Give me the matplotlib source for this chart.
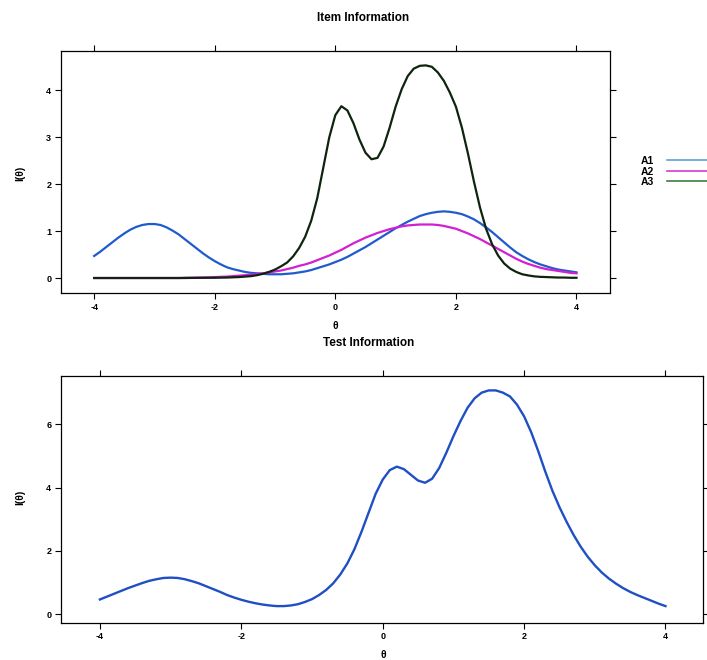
import matplotlib
matplotlib.use("Agg")
import matplotlib.pyplot as plt
from matplotlib.lines import Line2D
import numpy as np

plt.rcParams["font.family"] = ["Liberation Sans", "DejaVu Sans"]
plt.rcParams["font.weight"] = "bold"
plt.rcParams["axes.unicode_minus"] = False

# theta grid, step 0.1 from -4 to 4
theta = np.round(np.arange(-40, 41) / 10, 1)

a1 = [0.47, 0.56, 0.66, 0.76, 0.86, 0.95, 1.03, 1.09, 1.13, 1.15,
      1.15, 1.13, 1.08, 1.01, 0.93, 0.83, 0.73, 0.63, 0.53, 0.44,
      0.36, 0.29, 0.23, 0.19, 0.16, 0.13, 0.11, 0.10, 0.09, 0.08,
      0.08, 0.08, 0.09, 0.10, 0.12, 0.14, 0.17, 0.21, 0.25, 0.29,
      0.34, 0.39, 0.45, 0.52, 0.59, 0.66, 0.74, 0.82, 0.90, 0.98,
      1.06, 1.13, 1.20, 1.26, 1.32, 1.36, 1.39, 1.41, 1.42, 1.41,
      1.39, 1.36, 1.31, 1.25, 1.17, 1.08, 0.98, 0.87, 0.76, 0.65,
      0.55, 0.47, 0.40, 0.34, 0.29, 0.25, 0.21, 0.18, 0.16, 0.14,
      0.12]

a2 = [0.0, 0.0, 0.0, 0.0, 0.0, 0.0, 0.0, 0.0, 0.0, 0.0,
      0.0, 0.0, 0.0, 0.0, 0.0, 0.005, 0.007, 0.01, 0.012, 0.015,
      0.02, 0.025, 0.03, 0.04, 0.05, 0.06, 0.07, 0.085, 0.10, 0.12,
      0.14, 0.16, 0.19, 0.22, 0.26, 0.29, 0.33, 0.38, 0.43, 0.48,
      0.54, 0.60, 0.67, 0.74, 0.80, 0.86, 0.91, 0.96, 1.00, 1.04,
      1.07, 1.10, 1.12, 1.13, 1.14, 1.14, 1.14, 1.13, 1.11, 1.08,
      1.05, 1.00, 0.95, 0.89, 0.83, 0.76, 0.69, 0.62, 0.55, 0.48,
      0.41, 0.35, 0.30, 0.26, 0.22, 0.19, 0.17, 0.15, 0.13, 0.11,
      0.10]

a3 = [0.0, 0.0, 0.0, 0.0, 0.0, 0.0, 0.0, 0.0, 0.0, 0.0,
      0.0, 0.0, 0.0, 0.0, 0.0, 0.0, 0.002, 0.003, 0.004, 0.005,
      0.005, 0.008, 0.01, 0.015, 0.02, 0.03, 0.04, 0.06, 0.09, 0.13,
      0.18, 0.25, 0.33, 0.46, 0.64, 0.88, 1.22, 1.70, 2.35, 3.00,
      3.47, 3.66, 3.57, 3.30, 2.95, 2.67, 2.53, 2.56, 2.80, 3.20,
      3.65, 4.02, 4.30, 4.46, 4.52, 4.53, 4.50, 4.38, 4.20, 3.95,
      3.65, 3.20, 2.65, 2.05, 1.50, 1.05, 0.72, 0.48, 0.31, 0.20,
      0.13, 0.08, 0.055, 0.035, 0.025, 0.02, 0.015, 0.01, 0.01, 0.005,
      0.005]

test_info = [0.46, 0.55, 0.64, 0.73, 0.82, 0.90, 0.98, 1.05, 1.10, 1.14,
             1.15, 1.14, 1.10, 1.04, 0.97, 0.88, 0.79, 0.70, 0.60, 0.52,
             0.45, 0.39, 0.34, 0.30, 0.27, 0.25, 0.25, 0.27, 0.31, 0.38,
             0.47, 0.60, 0.76, 0.97, 1.25, 1.60, 2.05, 2.60, 3.20, 3.80,
             4.25, 4.55, 4.66, 4.58, 4.40, 4.22, 4.15, 4.28, 4.62, 5.10,
             5.62, 6.10, 6.52, 6.82, 7.00, 7.07, 7.07, 7.00, 6.88, 6.62,
             6.25, 5.75, 5.15, 4.50, 3.90, 3.38, 2.92, 2.50, 2.13, 1.81,
             1.54, 1.31, 1.12, 0.96, 0.82, 0.70, 0.60, 0.51, 0.42, 0.33,
             0.25]

items = ["A1", "A2", "A3"]
item_colors = ["#1f5bcc", "#d21fd2", "#0e240e"]
legend_colors = ["#5f9fd8", "#d23cd2", "#3d7d3d"]

fig = plt.figure(figsize=(7.07, 6.6), dpi=100)
ax1 = fig.add_axes([0.0863, 0.556, 0.776, 0.367])
ax2 = fig.add_axes([0.0863, 0.0565, 0.908, 0.374])


def lattice_style(ax, yticks):
    ax.set_xticks([-4, -2, 0, 2, 4])
    ax.set_yticks(yticks)
    ax.tick_params(direction="out", length=4, width=0.8, labelsize=6.5,
                   top=True, right=True, labeltop=False, labelright=False,
                   pad=3)
    for lab in ax.get_xticklabels() + ax.get_yticklabels():
        lab.set_fontweight("bold")
    for s in ax.spines.values():
        s.set_linewidth(0.9)


for vals, c in zip([a1, a2, a3], item_colors):
    ax1.plot(theta, vals, color=c, lw=1.6, solid_joinstyle="round")
ax1.set_xlim(-4.55, 4.55)
ax1.set_ylim(-0.32, 4.84)
lattice_style(ax1, [0, 1, 2, 3, 4])

ax2.plot(theta, test_info, color="#1f4fc4", lw=1.7, solid_joinstyle="round")
ax2.set_xlim(-4.55, 4.53)
ax2.set_ylim(-0.275, 7.53)
lattice_style(ax2, [0, 2, 4, 6])

handles = [Line2D([], [], color=c, lw=1.2) for c in legend_colors]
fig.legend(handles, items, loc="center left", bbox_to_anchor=(0.899, 0.74),
           frameon=False, markerfirst=False, handlelength=4.5,
           handletextpad=1.2, labelspacing=0.05, borderpad=0,
           prop={"size": 7.5, "weight": "bold"})

fig.text(363 / 707, 1 - 18 / 660, "Item Information", ha="center",
         va="center", fontsize=8.5, fontweight="bold")
fig.text(369 / 707, 1 - 343 / 660, "Test Information", ha="center",
         va="center", fontsize=8.5, fontweight="bold")
fig.text(335 / 707, 1 - 326 / 660, "θ", ha="center", va="center",
         fontsize=7.5, fontweight="bold")
fig.text(383 / 707, 1 - 655 / 660, "θ", ha="center", va="center",
         fontsize=7.5, fontweight="bold")
fig.text(20 / 707, 1 - 173 / 660, "I(θ)", ha="center", va="center",
         rotation=90, fontsize=7.5, fontweight="bold")
fig.text(20 / 707, 1 - 497 / 660, "I(θ)", ha="center", va="center",
         rotation=90, fontsize=7.5, fontweight="bold")

fig.savefig("out.png", dpi=100)
